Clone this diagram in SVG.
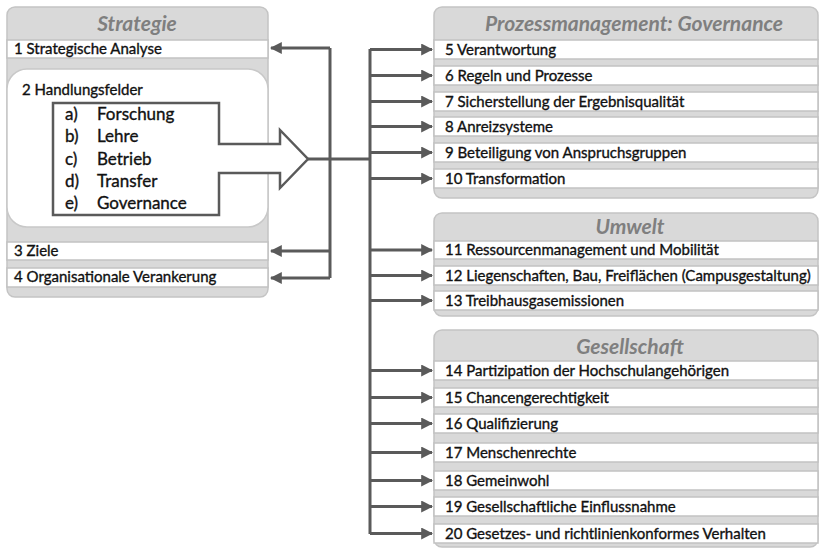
<svg xmlns="http://www.w3.org/2000/svg" width="820" height="549" viewBox="0 0 820 549">
<defs>
<marker id="ah" viewBox="0 0 10 10" refX="9" refY="5" markerWidth="4" markerHeight="4" orient="auto" markerUnits="strokeWidth">
<path d="M0,0 L10,5 L0,10 Z" fill="#5a5a5a"/>
</marker>
<style>
.panel{fill:#d9d9d9;stroke:#c4c4c4;stroke-width:1.5}
.row{fill:#ffffff;stroke:#c2c2c2;stroke-width:1.5}
.hd{font-family:Lato,"Liberation Sans",sans-serif;font-weight:bold;font-style:italic;font-size:21px;fill:#7f7f7f;text-anchor:middle}
.t{font-family:Lato,"Liberation Sans",sans-serif;font-size:15px;fill:#111111;stroke:#111111;stroke-width:0.35}
.li{font-family:Lato,"Liberation Sans",sans-serif;font-size:17px;fill:#111111;stroke:#111111;stroke-width:0.35}
.ln{fill:none;stroke:#5a5a5a;stroke-width:3}
.ar{fill:none;stroke:#5a5a5a;stroke-width:3;marker-end:url(#ah)}
</style>
</defs>
<rect width="820" height="549" fill="#ffffff"/>

<g id="strategie">
<rect class="panel" x="7" y="7" width="261" height="290" rx="8"/>
<text class="hd" x="137" y="31">Strategie</text>
<rect class="row" x="7" y="40" width="261" height="18"/>
<text class="t" x="14" y="54">1 Strategische Analyse</text>
<rect x="7" y="69" width="261" height="158" rx="20" fill="#ffffff" stroke="#c8c8c8" stroke-width="1.5"/>
<text class="t" x="22" y="95">2 Handlungsfelder</text>
<path d="M219,144 H280 V130 L308,159 L280,188 V173 H219 V215 H53 V103 H219 Z" fill="#ffffff" stroke="#5a5a5a" stroke-width="2.5" stroke-linejoin="miter"/>
<text class="li" x="65" y="120">a)</text><text class="li" x="97" y="120">Forschung</text>
<text class="li" x="65" y="142">b)</text><text class="li" x="97" y="142">Lehre</text>
<text class="li" x="65" y="165">c)</text><text class="li" x="97" y="165">Betrieb</text>
<text class="li" x="65" y="187">d)</text><text class="li" x="97" y="187">Transfer</text>
<text class="li" x="65" y="209">e)</text><text class="li" x="97" y="209">Governance</text>
<rect class="row" x="7" y="242" width="261" height="18"/>
<text class="t" x="14" y="256">3 Ziele</text>
<rect class="row" x="7" y="268" width="261" height="19"/>
<text class="t" x="14" y="282">4 Organisationale Verankerung</text>
</g>

<g id="prozessmanagement">
<rect class="panel" x="434" y="7" width="384" height="191" rx="8"/>
<text class="hd" x="634" y="31">Prozessmanagement: Governance</text>
<rect class="row" x="434" y="40" width="384" height="19"/><text class="t" x="445" y="54.5">5 Verantwortung</text>
<rect class="row" x="434" y="66" width="384" height="19"/><text class="t" x="445" y="80.5">6 Regeln und Prozesse</text>
<rect class="row" x="434" y="92" width="384" height="19"/><text class="t" x="445" y="106.5">7 Sicherstellung der Ergebnisqualität</text>
<rect class="row" x="434" y="117" width="384" height="19"/><text class="t" x="445" y="131.5">8 Anreizsysteme</text>
<rect class="row" x="434" y="143" width="384" height="19"/><text class="t" x="445" y="157.5">9 Beteiligung von Anspruchsgruppen</text>
<rect class="row" x="434" y="169" width="384" height="19"/><text class="t" x="445" y="183.5">10 Transformation</text>
</g>

<g id="umwelt">
<rect class="panel" x="434" y="213" width="384" height="103" rx="8"/>
<text class="hd" x="630" y="234">Umwelt</text>
<rect class="row" x="434" y="241" width="384" height="18"/><text class="t" x="445" y="255">11 Ressourcenmanagement und Mobilität</text>
<rect class="row" x="434" y="266" width="384" height="19"/><text class="t" x="445" y="280.5">12 Liegenschaften, Bau, Freiflächen (Campusgestaltung)</text>
<rect class="row" x="434" y="291" width="384" height="19"/><text class="t" x="445" y="305.5">13 Treibhausgasemissionen</text>
</g>

<g id="gesellschaft">
<rect class="panel" x="434" y="330" width="384" height="217" rx="8"/>
<text class="hd" x="630" y="354">Gesellschaft</text>
<rect class="row" x="434" y="361" width="384" height="19"/><text class="t" x="445" y="375.5">14 Partizipation der Hochschulangehörigen</text>
<rect class="row" x="434" y="388" width="384" height="19"/><text class="t" x="445" y="402.5">15 Chancengerechtigkeit</text>
<rect class="row" x="434" y="414" width="384" height="19"/><text class="t" x="445" y="428.5">16 Qualifizierung</text>
<rect class="row" x="434" y="443" width="384" height="19"/><text class="t" x="445" y="457.5">17 Menschenrechte</text>
<rect class="row" x="434" y="471" width="384" height="19"/><text class="t" x="445" y="485.5">18 Gemeinwohl</text>
<rect class="row" x="434" y="497" width="384" height="19"/><text class="t" x="445" y="511.5">19 Gesellschaftliche Einflussnahme</text>
<rect class="row" x="434" y="524" width="384" height="19"/><text class="t" x="445" y="538.5">20 Gesetzes- und richtlinienkonformes Verhalten</text>
</g>

<g id="connectors">
<path class="ln" d="M308,159 H370"/>
<path class="ln" d="M330,48 V278"/>
<path class="ar" d="M330,48 H271"/>
<path class="ar" d="M330,251 H271"/>
<path class="ar" d="M330,278 H271"/>
<path class="ln" d="M370,49 V534"/>
<path class="ar" d="M370,49.5 H432"/>
<path class="ar" d="M370,75.5 H432"/>
<path class="ar" d="M370,101.5 H432"/>
<path class="ar" d="M370,126.5 H432"/>
<path class="ar" d="M370,152.5 H432"/>
<path class="ar" d="M370,178.5 H432"/>
<path class="ar" d="M370,250 H432"/>
<path class="ar" d="M370,275.5 H432"/>
<path class="ar" d="M370,300.5 H432"/>
<path class="ar" d="M370,370.5 H432"/>
<path class="ar" d="M370,397.5 H432"/>
<path class="ar" d="M370,423.5 H432"/>
<path class="ar" d="M370,452.5 H432"/>
<path class="ar" d="M370,480.5 H432"/>
<path class="ar" d="M370,506.5 H432"/>
<path class="ar" d="M370,533.5 H432"/>
</g>
</svg>
